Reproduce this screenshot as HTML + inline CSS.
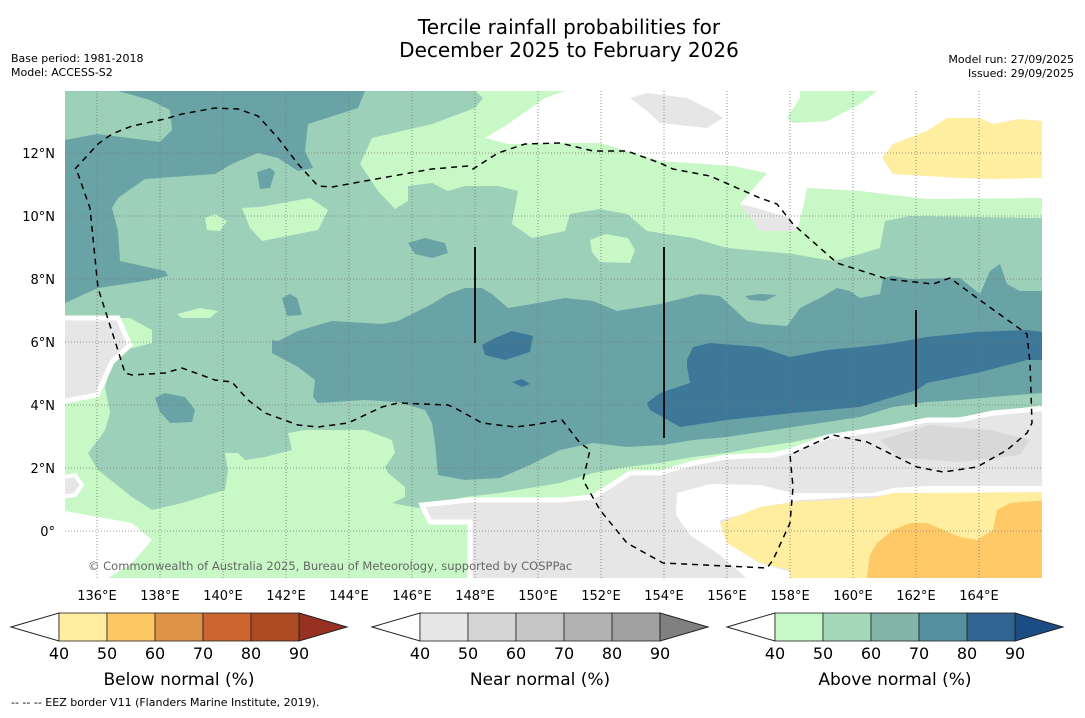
<!DOCTYPE html>
<html><head><meta charset="utf-8"><style>
body{margin:0;background:#fff;width:1085px;height:713px;overflow:hidden;font-family:"Liberation Sans","DejaVu Sans",sans-serif}
svg text{font-family:"DejaVu Sans","Liberation Sans",sans-serif}
</style></head><body>
<svg id="c" width="1085" height="713" xmlns="http://www.w3.org/2000/svg">
<text x="569" y="34" font-size="20" text-anchor="middle">Tercile rainfall probabilities for</text>
<text x="569" y="57" font-size="20" text-anchor="middle">December 2025 to February 2026</text>
<text x="11" y="62" font-size="11">Base period: 1981-2018</text>
<text x="11" y="76" font-size="11">Model: ACCESS-S2</text>
<text x="1074" y="63" font-size="11" text-anchor="end">Model run: 27/09/2025</text>
<text x="1074" y="77" font-size="11" text-anchor="end">Issued: 29/09/2025</text>
<defs><clipPath id="mc"><rect x="65" y="91" width="977" height="487"/></clipPath></defs>
<g clip-path="url(#mc)">
<rect x="65" y="91" width="977" height="487" fill="#c8f8c6"/>
<polygon fill="#fff" points="485,138 508,124 545,98 565,91 1042,91 1042,198 927,199 860,191 807,188 803,208 797,231 760,231 740,204 767,173 733,166 660,161 600,143 565,143 508,144"/>
<polygon fill="#c8f8c6" points="787,118 800,98 800,91 877,91 860,104 827,121 793,123"/>
<polygon fill="#e6e6e6" points="630,98 647,93 687,98 713,111 723,118 707,128 660,123 647,111"/>
<polygon fill="#e6e6e6" points="740,204 760,209 790,218 797,231 760,231"/>
<polygon fill="#ffeda0" points="882,158 893,144 927,131 947,118 980,118 993,124 1020,119 1042,121 1042,178 993,179 960,178 893,174"/>
<polygon fill="#9dd0b9" points="65,91 475,91 483,98 475,108 432,124 372,138 360,164 378,191 395,209 408,201 408,186 432,183 448,191 465,186 498,186 518,191 512,224 532,238 565,231 570,214 600,209 627,214 647,231 693,238 727,248 760,251 793,254 833,261 860,254 880,248 885,221 910,216 1042,218 1042,405 993,412 960,417 927,422 893,425 860,430 827,435 793,442 760,447 727,453 693,457 660,463 627,467 593,473 560,483 500,493 465,497 438,503 418,508 392,503 405,497 405,487 388,473 385,467 395,453 392,440 365,430 305,430 288,433 292,450 265,457 245,460 238,453 225,453 228,470 225,490 182,503 152,510 132,497 98,470 88,453 98,440 105,430 110,413 105,387 112,363 125,350 152,343 152,330 130,318 65,318"/>
<polygon fill="#c8f8c6" points="242,208 260,207 310,198 322,206 328,210 318,230 262,241 250,228"/>
<polygon fill="#c8f8c6" points="205,218 215,214 227,221 220,231 207,230"/>
<polygon fill="#c8f8c6" points="590,240 605,234 628,238 635,250 630,263 600,262 592,252"/>
<polygon fill="#c8f8c6" points="177,314 200,308 218,311 210,318 182,318"/>
<polygon fill="#6aa3a5" points="65,140 97,134 160,142 172,130 170,110 150,100 118,91 365,91 358,108 308,124 305,151 313,168 298,171 278,158 258,153 232,164 215,174 145,179 118,198 112,208 118,231 120,261 165,271 168,276 145,281 98,288 65,303"/>
<polygon fill="#6aa3a5" points="272,340 278,341 298,331 332,321 382,324 398,321 412,314 432,304 448,294 465,288 482,288 492,294 508,308 532,304 565,298 593,301 617,311 660,304 700,294 720,296 733,308 747,321 760,324 787,326 800,308 820,298 837,288 850,291 860,298 880,294 883,278 893,276 910,279 960,278 980,294 990,271 1000,264 1007,284 1020,291 1042,291 1042,393 993,397 960,400 927,402 893,407 860,417 827,422 793,427 760,432 727,437 693,440 663,445 627,447 593,443 560,450 530,465 500,478 465,480 438,475 435,443 432,423 425,410 398,402 365,400 318,403 313,397 315,380 298,367 272,353"/>
<polygon fill="#6aa3a5" points="155,398 165,393 185,397 195,410 192,422 170,423 160,412"/>
<polygon fill="#6aa3a5" points="408,243 425,238 445,243 448,253 432,258 415,254"/>
<polygon fill="#6aa3a5" points="257,172 270,168 275,172 270,188 260,189"/>
<polygon fill="#6aa3a5" points="282,298 290,294 297,298 302,315 287,316"/>
<polygon fill="#6aa3a5" points="745,296 760,294 777,295 765,301 750,300"/>
<polygon fill="#3e7898" points="687,360 693,347 710,343 760,347 790,357 827,350 860,347 893,343 927,337 977,332 1027,330 1042,332 1042,360 1027,360 977,373 927,383 917,390 893,397 860,407 793,413 727,420 680,427 650,410 647,403 660,393 690,383 687,367"/>
<polygon fill="#3e7898" points="482,345 495,338 512,331 533,336 530,352 505,360 485,355"/>
<polygon fill="#3e7898" points="512,382 522,379 530,384 522,387"/>
<polygon fill="#e6e6e6" stroke="#fff" stroke-width="5" points="60,318 118,318 130,345 112,362 97,395 60,402"/>
<polygon fill="#e6e6e6" stroke="#fff" stroke-width="4" points="60,478 75,475 82,485 75,495 60,497"/>
<polygon fill="#fff" points="60,510 98,517 132,523 152,540 132,563 108,578 60,578"/>
<polygon fill="#e6e6e6" stroke="#fff" stroke-width="5" points="560,500 593,497 630,473 660,473 693,463 727,457 773,455 793,450 827,437 860,432 893,427 927,420 960,420 993,413 1050,408 1050,590 470,590 470,522 430,522 422,505 470,500"/>
<polygon fill="#d8d8d8" points="880,440 930,425 990,430 1030,440 1020,455 960,462 900,458"/>
<polygon fill="#fff" points="677,493 710,484 760,485 793,493 873,493 893,488 927,486 1050,486 1050,493 893,495 800,500 720,520 727,543 760,563 790,572 790,590 760,590 720,555 690,535 676,515"/>
<polygon fill="#ffeda0" points="720,523 760,507 793,502 827,500 873,498 893,493 927,493 1050,492 1050,590 790,590 790,570 760,563 727,543"/>
<polygon fill="#fec966" points="877,543 893,530 910,523 927,523 960,537 977,540 993,530 997,510 1010,503 1050,500 1050,590 865,590 870,555"/>
<g id="grid"></g>
<polyline fill="none" stroke="#000" stroke-width="1.5" stroke-dasharray="6,5" points="75,169 98,144 112,134 132,126 165,119 182,114 215,108 238,109 258,116 278,138 298,164 318,186 332,187 365,181 432,169 468,166 473,169 498,153 525,144 560,143 593,151 627,151 660,163 673,169 710,176 760,198 777,204 793,224 837,263 887,279 933,284 950,278 977,298 1027,334 1030,363 1032,423 1027,433 1007,450 977,467 943,472 917,467 877,447 867,442 833,435 800,450 790,455 793,487 790,523 773,560 767,568 663,563 627,543 600,510 583,480 590,450 580,443 562,420 532,425 515,427 482,423 455,408 448,405 398,403 382,407 348,423 318,427 298,425 265,413 248,400 232,382 215,380 182,368 165,373 132,375 125,373 115,341 98,288 90,208 78,174 75,169"/>
<line x1="475" y1="247" x2="475" y2="343" stroke="#111" stroke-width="2"/>
<line x1="664" y1="247" x2="664" y2="438" stroke="#111" stroke-width="2"/>
<line x1="916" y1="310" x2="916" y2="407" stroke="#111" stroke-width="2"/>
<text x="88" y="570" font-size="11.5" fill="#666">© Commonwealth of Australia 2025, Bureau of Meteorology, supported by COSPPac</text>
</g>
<g id="ticks"></g>
<g id="bars"></g>
<text x="11" y="706" font-size="11">--  --  -- EEZ border V11 (Flanders Marine Institute, 2019).</text>
</svg>
<script>
const lonTicks=[136,138,140,142,144,146,148,150,152,154,156,158,160,162,164];
const latTicks=[0,2,4,6,8,10,12];
const levels=[40,50,60,70,80,90];
const belowColors=["#ffeda0","#fec965","#df9346","#cc6530","#ad4b25","#973222"];
const nearColors=["#e6e6e6","#d4d4d4","#c6c6c6","#b2b2b2","#a0a0a0","#808080"];
const aboveColors=["#c7f9c8","#a5d8b8","#82b5a7","#5590a0","#316491","#1b4d84"];
const barTitles=["Below normal (%)","Near normal (%)","Above normal (%)"];
const NS="http://www.w3.org/2000/svg";
const X=lon=>97+(lon-136)*31.5, Y=lat=>531-lat*31.5;
function mk(t,a,p){const e=document.createElementNS(NS,t);for(const k in a)e.setAttribute(k,a[k]);p.appendChild(e);return e;}
const grid=document.getElementById('grid'),ticks=document.getElementById('ticks');
lonTicks.forEach(l=>{
 const g=mk('line',{x1:X(l),x2:X(l),y1:91,y2:578,stroke:'#777','stroke-width':0.8,'stroke-dasharray':'1,2'},grid);
 
 
 const t=mk('text',{x:X(l),y:600,'font-size':13,'text-anchor':'middle'},ticks);t.textContent=l+'°E';
 
 
});
latTicks.forEach(l=>{
 const g=mk('line',{x1:65,x2:1042,y1:Y(l),y2:Y(l),stroke:'#777','stroke-width':0.8,'stroke-dasharray':'1,2'},grid);
 
 
 const t=mk('text',{x:55,y:Y(l)+5,'font-size':13,'text-anchor':'end'},ticks);t.textContent=l===0?'0°':l+'°N';
 
 
});
const bars=document.getElementById('bars');
[[11,belowColors],[372,nearColors],[727,aboveColors]].forEach((b,i)=>{
 const x0=b[0],cols=b[1],bx=x0+48,w=48,y0=613,h=28;
 const lt=mk('polygon',{points:`${x0},${y0+h/2} ${bx},${y0} ${bx},${y0+h}`,fill:'#fff',stroke:'#222','stroke-width':1},bars);
 
 
 for(let k=0;k<5;k++){const r=mk('rect',{x:bx+k*w,y:y0,width:w,height:h,fill:cols[k],stroke:'#222','stroke-width':0.8},bars);
  
  }
 const e=bx+5*w;
 const rt=mk('polygon',{points:`${e},${y0} ${e+48},${y0+h/2} ${e},${y0+h}`,fill:cols[5],stroke:'#222','stroke-width':1},bars);
 
 
 levels.forEach((v,k)=>{const t=mk('text',{x:bx+k*w,y:659,'font-size':16,'text-anchor':'middle'},bars);t.textContent=v;
  
  });
 const tt=mk('text',{x:bx+2.5*w,y:685,'font-size':17,'text-anchor':'middle'},bars);tt.textContent=barTitles[i];
 
 
});
</script>
</body></html>
